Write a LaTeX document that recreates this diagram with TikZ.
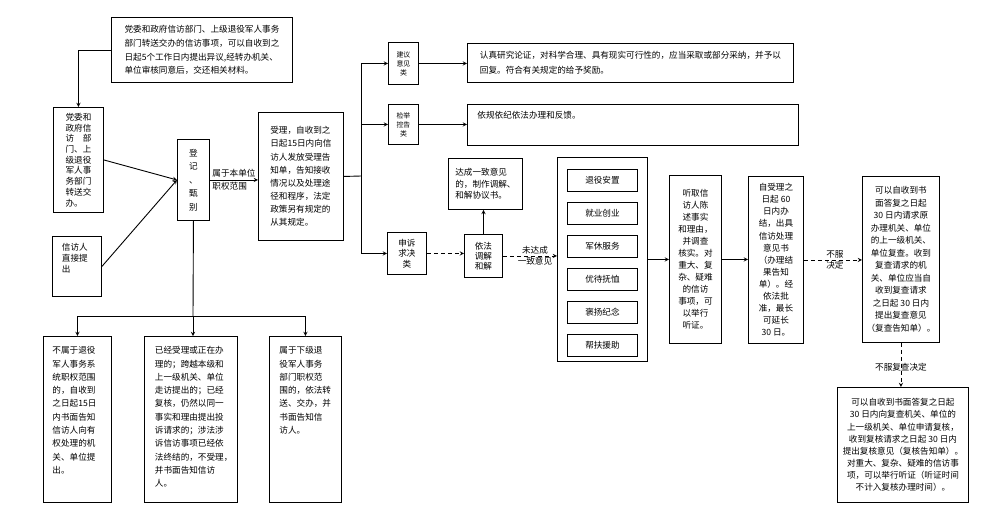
\documentclass[tikz,border=0pt]{standalone}
\usepackage{fontspec}
\newfontfamily\cjk{Noto Sans CJK SC}
\usetikzlibrary{arrows, positioning}

\begin{document}
\begin{tikzpicture}[->,>=stealth, line width=0.9pt, x=1pt, y=-1pt,
  lines/.style={font=\cjk\fontsize{8.6}{#1}\selectfont}, lines/.default=13.3,
  box/.style={draw, rectangle, anchor=north west, inner sep=3pt, lines},
  small/.style={font=\cjk\fontsize{6.9}{9}\selectfont},
  lbl/.style={lines=11, inner sep=0pt},
  broken/.style={dash pattern=on 4pt off 3pt}]

\useasboundingbox (0,0) rectangle (993,531);

% sources and registration
\node [box, align=left, lines=13.8, minimum width=181pt, minimum height=65pt] (note) at (111,17) {党委和政府信访部门、上级退役军人事务\\部门转送交办的信访事项，可以自收到之\\日起5个工作日内提出异议,经转办机关、\\单位审核同意后，交还相关材料。};
\node [box, align=left, lines=10.7, minimum width=50pt, minimum height=105pt] (party) at (53,107) {党委和\\政府信\\访\hspace{8.6pt}部\\门、上\\级退役\\军人事\\务部门\\转送交\\办。};
\node [box, align=left, lines=11, text width=30pt, minimum width=49pt, text height=11.3pt, text depth=42.7pt] (direct) at (52,236) {信访人\\直接提\\出};
\node [box, align=center, lines=13.5, minimum width=32pt, minimum height=81pt] (register) at (177,139) {登\\记\\、\\甄\\别};
\node [box, align=left, lines=13.1, minimum width=85pt, minimum height=128pt] (accept) at (258,112) {受理，自收到之\\日起15日内向信\\访人发放受理告\\知单，告知接收\\情况以及处理途\\径和程序，法定\\政策另有规定的\\从其规定。};

% not accepted
\node [box, align=left, text width=50pt, inner xsep=9pt, text height=14.3pt, text depth=145.7pt] (outside) at (43,336) {不属于退役\\军人事务系\\统职权范围\\的，自收到\\之日起15日\\内书面告知\\信访人向有\\权处理的机\\关、单位提\\出。};
\node [box, align=left, text width=72pt, inner xsep=10.5pt, text height=14.3pt, text depth=145.7pt] (refuse) at (144,336) {已经受理或正在办\\理的；跨越本级和\\上一级机关、单位\\走访提出的；已经\\复核，仍然以同一\\事实和理由提出投\\诉请求的；涉法涉\\诉信访事项已经依\\法终结的，不受理，\\并书面告知信访\\人。};
\node [box, align=left, text width=52pt, inner xsep=10pt, text height=14.3pt, text depth=145.7pt] (forward) at (269,336) {属于下级退\\役军人事务\\部门职权范\\围的，依法转\\送、交办，并\\书面告知信\\访人。};

% three kinds
\node [box, small, align=center, minimum width=30pt, minimum height=42pt] (suggest) at (388,42) {建议\\意见\\类};
\node [box, small, align=center, minimum width=30pt, minimum height=40pt] (report) at (388,104) {检举\\控告\\类};
\node [box, align=center, lines=10.5, minimum width=39pt, minimum height=42pt] (appeal) at (387,232) {申诉\\求决\\类};
\node [box, align=left, lines=15, minimum width=326pt, minimum height=39pt] (suggestres) at (467,43) {认真研究论证，对科学合理、具有现实可行性的，应当采取或部分采纳，并予以\\回复。符合有关规定的给予奖励。};
\node [box, align=left, text width=311pt, inner xsep=10pt, text height=11.3pt, text depth=23.7pt] (reportres) at (467,104) {依规依纪依法办理和反馈。};

% appeal handling
\node [box, align=center, lines=10, minimum width=38pt, minimum height=43pt] (mediate) at (464,234) {依法\\调解\\和解};
\node [box, align=left, lines=11.5, minimum width=74pt, minimum height=51pt] (agree) at (448,158) {达成一致意见\\的，制作调解、\\和解协议书。};
\node [box, minimum width=90pt, minimum height=204pt] (cats) at (557,157) {};
\node [box, minimum width=70pt, minimum height=22pt] (c1) at (567,169) {退役安置};
\node [box, minimum width=70pt, minimum height=22pt, below=10pt of c1] (c2) {就业创业};
\node [box, minimum width=70pt, minimum height=22pt, below=10pt of c2] (c3) {军休服务};
\node [box, minimum width=70pt, minimum height=22pt, below=10pt of c3] (c4) {优待抚恤};
\node [box, minimum width=70pt, minimum height=22pt, below=10pt of c4] (c5) {褒扬纪念};
\node [box, minimum width=70pt, minimum height=22pt, below=10pt of c5] (c6) {帮扶援助};
\node [box, align=center, lines=12, minimum width=52pt, minimum height=168pt] (hear) at (669,175) {听取信\\访人陈\\述事实\\和理由，\\并调查\\核实。对\\重大、复\\杂、疑难\\的信访\\事项，可\\以举行\\听证。};
\node [box, align=center, lines=12.1, minimum width=55pt, minimum height=167pt] (deadline) at (748,176) {自受理之\\日起 60\\日内办\\结，出具\\信访处理\\意见书\\（办理结\\果告知\\单）。经\\依法批\\准，最长\\可延长\\30 日。};
\node [box, align=center, lines=12.5, minimum width=77pt, minimum height=166pt] (review) at (862,176) {可以自收到书\\面答复之日起\\30 日内请求原\\办理机关、单位\\的上一级机关、\\单位复查。收到\\复查请求的机\\关、单位应当自\\收到复查请求\\之日起 30 日内\\提出复查意见\\（复查告知单）。};
\node [box, align=center, lines=12.1, minimum width=131pt, minimum height=115pt] (recheck) at (837,387) {可以自收到书面答复之日起\\30 日内向复查机关、单位的\\上一级机关、单位申请复核，\\收到复核请求之日起 30 日内\\提出复核意见（复核告知单）。\\对重大、复杂、疑难的信访事\\项，可以举行听证（听证时间\\不计入复核办理时间）。};

\coordinate (split) at (361,176);
\coordinate (fork) at (193,316);

\draw (note.west) -| (party.north);
\draw (party.east) -- (register.west);
\draw (direct.east) -- (register.west);
\draw (register.east) -- node [lbl, align=left, lines=13.5] {属于本单位\\职权范围} (register.east -| accept.west);
\draw [-] (accept.east) -- (split);
\draw (split) |- (suggest.west);
\draw (split) |- (report.west);
\draw (split) |- (appeal.west);
\draw (suggest.east) -- (suggest.east -| suggestres.west);
\draw (report.east) -- (report.east -| reportres.west);
\draw [broken] (appeal.east) -- (appeal.east -| mediate.west);
\draw (mediate.north) -- (mediate.north |- agree.south);
\draw [broken] (mediate.east) -- node [lbl, align=center, xshift=5pt] {未达成\\一致意见} (mediate.east -| cats.west);
\draw (cats.east) -- (cats.east -| hear.west);
\draw (hear.east) -- (hear.east -| deadline.west);
\draw [broken] (deadline.east) -- node [lbl, align=center, xshift=2pt] {不服\\决定} (deadline.east -| review.west);
\draw [broken] (review.south) -- node [lbl, yshift=-2pt] {不服复查决定} (review.south |- recheck.north);
\draw [-] (register.south) -- (fork);
\draw (fork) -| (outside.north);
\draw (fork) -- (fork |- refuse.north);
\draw (fork) -| (forward.north);

\end{tikzpicture}
\end{document}
